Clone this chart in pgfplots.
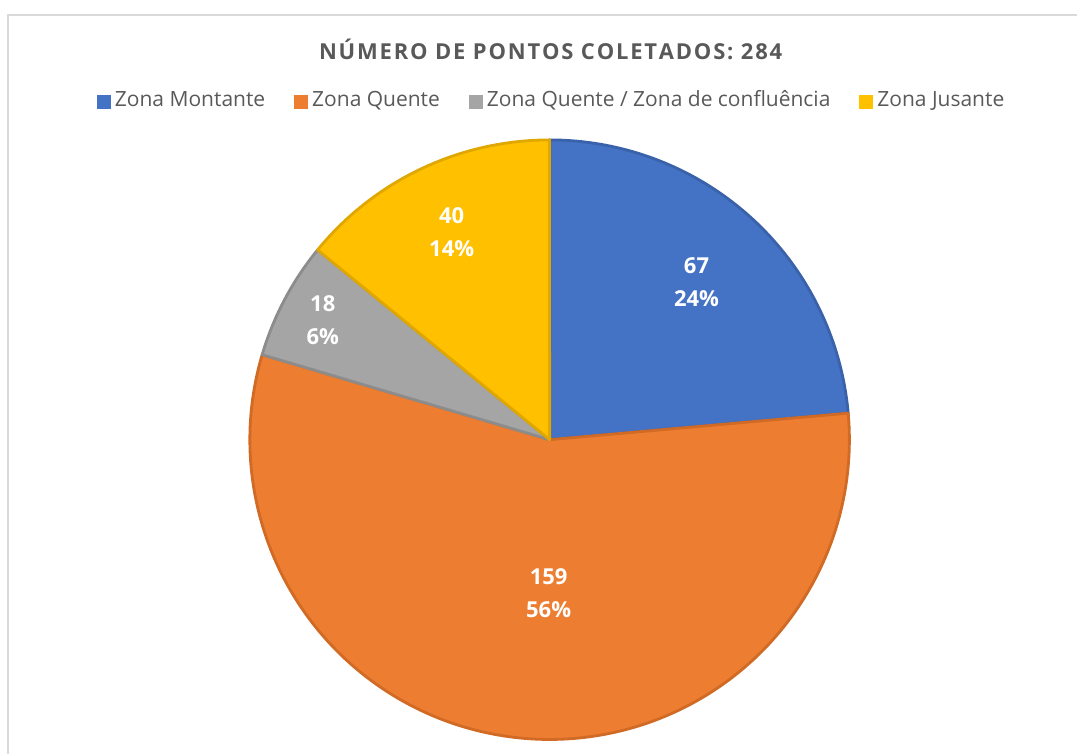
\documentclass[border=0pt]{standalone}
\usepackage{pgfplots}
\pgfplotsset{compat=1.18}
\usepackage{fontspec}
\setmainfont{Open Sans}
\definecolor{cblue}{HTML}{4472C4}
\definecolor{cblueD}{HTML}{3A62AA}
\definecolor{corange}{HTML}{ED7D31}
\definecolor{corangeD}{HTML}{D06A24}
\definecolor{cgray}{HTML}{A5A5A5}
\definecolor{cgrayD}{HTML}{8C8C8C}
\definecolor{cyellow}{HTML}{FFC000}
\definecolor{cyellowD}{HTML}{E0A700}
\definecolor{ctext}{HTML}{595959}
\def\lk{\kern0.9pt}
\begin{document}
\begin{tikzpicture}
% data: number of points per zone
\def\vA{67}\def\vB{159}\def\vC{18}\def\vD{40}
\pgfmathsetmacro\tot{\vA+\vB+\vC+\vD}
\pgfmathsetmacro\aA{90}
\pgfmathsetmacro\aB{\aA-(\vA/\tot)*360}
\pgfmathsetmacro\aC{\aB-(\vB/\tot)*360}
\pgfmathsetmacro\aD{\aC-(\vC/\tot)*360}
\pgfmathsetmacro\aE{\aD-(\vD/\tot)*360}
\begin{axis}[
  x=0.5pt, y=0.5pt,
  xmin=0, xmax=1078, ymin=0, ymax=755,
  hide axis, clip=false,
  legend columns=-1,
  legend image code/.code={\path[#1,draw=none] (0pt,-4.5pt) rectangle (7pt,2.5pt);},
  legend style={at={(axis cs:553,654.5)}, anchor=center, draw=none, fill=none,
    font=\fontsize{10.5}{12}\selectfont, text=ctext,
    /tikz/every even column/.append style={column sep=12.5pt}},
]
\path (axis cs:0,0) rectangle (axis cs:1078,755);
\draw[color=black!15, line width=0.75pt] (axis cs:8,0) -- (axis cs:8,740) -- (axis cs:1078,740);
\addplot[fill=cblue, draw=cblueD, line width=1.4pt, line join=round, domain=\aB:\aA, samples=80, variable=\t]
  ({550+300*cos(\t)},{315+300*sin(\t)}) -- (axis cs:550,315) -- cycle;
\addlegendentry{Zona Montante}
\addplot[fill=corange, draw=corangeD, line width=1.4pt, line join=round, domain=\aC:\aB, samples=160, variable=\t]
  ({550+300*cos(\t)},{315+300*sin(\t)}) -- (axis cs:550,315) -- cycle;
\addlegendentry{Zona Quente}
\addplot[fill=cgray, draw=cgrayD, line width=1.4pt, line join=round, domain=\aD:\aC, samples=30, variable=\t]
  ({550+300*cos(\t)},{315+300*sin(\t)}) -- (axis cs:550,315) -- cycle;
\addlegendentry{Zona Quente / Zona de confluência}
\addplot[fill=cyellow, draw=cyellowD, line width=1.4pt, line join=round, domain=\aE:\aD, samples=50, variable=\t]
  ({550+300*cos(\t)},{315+300*sin(\t)}) -- (axis cs:550,315) -- cycle;
\addlegendentry{Zona Jusante}
\node[text=ctext, font=\fontsize{11}{13}\selectfont\bfseries] at (axis cs:551,705.5)
  {N\lk Ú\lk M\lk E\lk R\lk O \lk D\lk E \lk P\lk O\lk N\lk T\lk O\lk S \lk C\lk O\lk L\lk E\lk T\lk A\lk D\lk O\lk S\lk: \lk 2\lk 8\lk 4};
\begin{scope}[every node/.style={align=center, text=white, font=\fontsize{11}{16.5}\selectfont\bfseries}]
\node at (axis cs:697,473) {67\\24\%};
\node at (axis cs:549,161.5) {159\\56\%};
\node at (axis cs:323,435) {18\\6\%};
\node at (axis cs:452,523) {40\\14\%};
\end{scope}
\end{axis}
\end{tikzpicture}
\end{document}
